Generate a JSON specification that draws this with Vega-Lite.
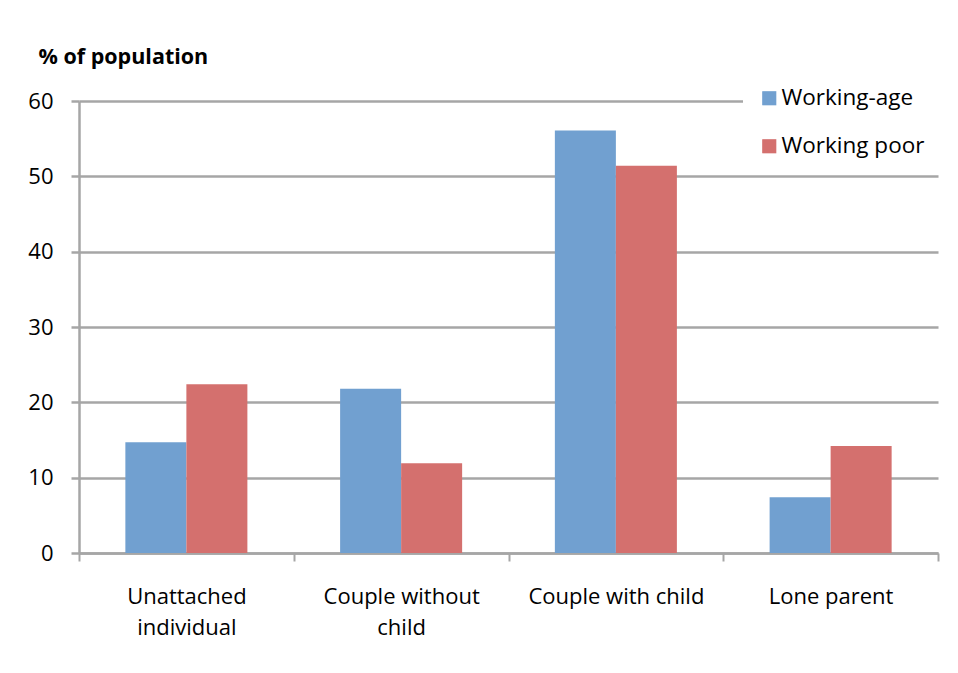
{
  "$schema": "https://vega.github.io/schema/vega-lite/v6.json",
  "autosize": "none",
  "width": 859,
  "height": 452,
  "padding": {"left": 79, "top": 101, "right": 20, "bottom": 120},
  "background": "white",
  "config": {
    "view": {"stroke": null},
    "font": "Open Sans"
  },
  "data": {
    "values": [
      {"household": "Unattached individual", "group": "Working-age", "pct": 14.7},
      {"household": "Unattached individual", "group": "Working poor", "pct": 22.4},
      {"household": "Couple without child", "group": "Working-age", "pct": 21.8},
      {"household": "Couple without child", "group": "Working poor", "pct": 11.9},
      {"household": "Couple with child", "group": "Working-age", "pct": 56.1},
      {"household": "Couple with child", "group": "Working poor", "pct": 51.4},
      {"household": "Lone parent", "group": "Working-age", "pct": 7.4},
      {"household": "Lone parent", "group": "Working poor", "pct": 14.2}
    ]
  },
  "mark": {"type": "bar"},
  "encoding": {
    "x": {
      "field": "household",
      "type": "nominal",
      "sort": null,
      "scale": {"paddingInner": 0, "paddingOuter": 0},
      "axis": {
        "title": null,
        "labelAngle": 0,
        "labelFontSize": 22,
        "labelColor": "#000000",
        "labelPadding": 25,
        "labelLineHeight": 31,
        "labelExpr": "datum.value == 'Unattached individual' ? ['Unattached', 'individual'] : datum.value == 'Couple without child' ? ['Couple without', 'child'] : datum.value",
        "tickBand": "extent",
        "tickSize": 8,
        "tickWidth": 2,
        "tickColor": "#A6A6A6",
        "domainColor": "#A6A6A6",
        "domainWidth": 2.5
      }
    },
    "xOffset": {
      "field": "group",
      "type": "nominal",
      "sort": ["Working-age", "Working poor"],
      "scale": {"paddingInner": 0, "paddingOuter": 0.76}
    },
    "y": {
      "field": "pct",
      "type": "quantitative",
      "scale": {"domain": [0, 60]},
      "axis": {
        "values": [0, 10, 20, 30, 40, 50, 60],
        "title": "% of population",
        "titleAngle": 0,
        "titleAlign": "left",
        "titleBaseline": "middle",
        "titleX": -41,
        "titleY": -44,
        "titleFontSize": 21.5,
        "titleFontWeight": "bold",
        "titleColor": "#000000",
        "labelFontSize": 22,
        "labelColor": "#000000",
        "labelPadding": 18,
        "tickSize": 8,
        "tickWidth": 2.5,
        "tickColor": "#A6A6A6",
        "domainColor": "#A6A6A6",
        "domainWidth": 2.5,
        "gridColor": "#A6A6A6",
        "gridWidth": 2.5
      }
    },
    "color": {
      "field": "group",
      "type": "nominal",
      "scale": {"domain": ["Working-age", "Working poor"], "range": ["#71A0D0", "#D4706E"]},
      "legend": {
        "title": null,
        "orient": "none",
        "legendX": 664,
        "legendY": -29,
        "fillColor": "white",
        "padding": 15,
        "symbolType": "square",
        "symbolSize": 200,
        "symbolStrokeWidth": 0,
        "labelFontSize": 22.5,
        "labelColor": "#000000",
        "labelOffset": 1,
        "rowPadding": 25
      }
    }
  }
}
